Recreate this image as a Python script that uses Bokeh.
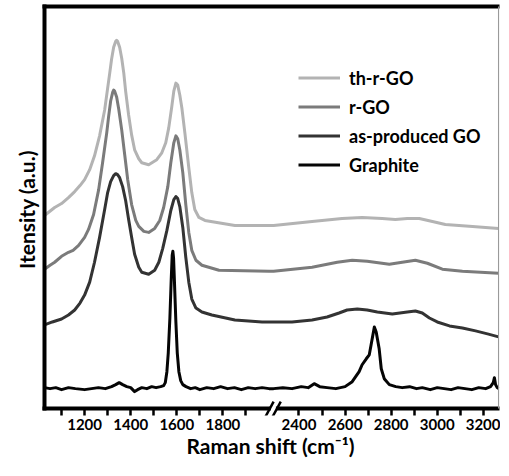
from bokeh.plotting import figure
from bokeh.models import FixedTicker, LinearAxis, Range1d, Legend, LegendItem
from bokeh.embed import file_html
from bokeh.resources import INLINE

# ---- data (Raman shift in cm^-1, intensity in a.u.) ----
graphite_x = [1026, 1050, 1075, 1100, 1130, 1160, 1200, 1230, 1260, 1290, 1317, 1335, 1350, 1365,
              1383, 1400, 1417, 1430, 1448, 1470, 1491, 1510, 1530, 1543, 1550, 1557, 1563, 1570,
              1576, 1580, 1583, 1586, 1590, 1596, 1602, 1609, 1617, 1626, 1640, 1660, 1680, 1700,
              1730, 1760, 1790, 1820, 1850, 1880, 1910, 1940, 1970, 2000,
              2290, 2330, 2370, 2410, 2440, 2466, 2490, 2522, 2560, 2600, 2631, 2661, 2674, 2692,
              2705, 2713, 2727, 2735, 2748, 2757, 2770, 2792, 2820, 2848, 2880, 2910, 2935, 2970,
              3000, 3030, 3060, 3090, 3120, 3150, 3180, 3210, 3231, 3243, 3248, 3253, 3260, 3266]
graphite_y = [5, 4, 5, 3, 5, 4, 3, 4, 5, 4, 6, 8, 10, 8,
              6, 5, 1, 3, 5, 4, 6, 5, 6, 7, 10, 21, 40, 75,
              115, 138, 142, 135, 110, 71, 40, 21, 12, 8, 6, 4, 5, 3,
              5, 4, 6, 4, 5, 3, 5, 4, 5, 4,
              4, 5, 4, 6, 5, 9, 6, 5, 4, 6, 11, 21, 28, 34,
              38, 48, 66, 61, 44, 24, 14, 8, 6, 5, 6, 4, 5, 3,
              5, 4, 3, 5, 4, 3, 5, 4, 6, 10, 15, 8, 5, 4]

go_x = [1026, 1060, 1100, 1130, 1157, 1180, 1200, 1222, 1243, 1265, 1287, 1300, 1313, 1326, 1335,
        1343, 1352, 1365, 1378, 1391, 1404, 1417, 1435, 1448, 1478, 1504, 1522, 1539, 1557, 1574,
        1587, 1596, 1604, 1613, 1626, 1639, 1652, 1665, 1683, 1709, 1752, 1852, 1970, 2000,
        2290, 2370, 2457, 2522, 2574, 2609, 2653, 2696, 2740, 2805, 2870, 2905, 2935, 2966, 3000,
        3053, 3109, 3166, 3218, 3266]
go_y = [68, 71, 74, 78, 83, 90, 98, 111, 131, 156, 184, 201, 212, 218, 220,
        219, 216, 207, 193, 174, 156, 139, 126, 121, 119, 123, 131, 145, 163, 183,
        194, 197, 195, 187, 166, 136, 111, 94, 85, 81, 78, 73, 71, 71,
        71, 71, 73, 76, 80, 83, 84, 83, 81, 79, 81, 82, 80, 75, 71,
        67, 65, 62, 59, 56]

rgo_x = [1026, 1050, 1070, 1100, 1130, 1150, 1174, 1200, 1217, 1239, 1261, 1278, 1296, 1304, 1313,
         1322, 1326, 1330, 1339, 1348, 1361, 1374, 1387, 1404, 1422, 1435, 1457, 1478, 1504, 1526,
         1543, 1561, 1574, 1587, 1596, 1604, 1613, 1626, 1639, 1652, 1665, 1683, 1709, 1783, 2000,
         2290, 2457, 2566, 2631, 2696, 2792, 2848, 2905, 2957, 3022, 3109, 3266]
rgo_y = [124, 128, 131, 137, 141, 143, 148, 156, 164, 179, 204, 231, 261, 277, 293,
         302, 304, 303, 297, 285, 264, 239, 214, 189, 173, 167, 162, 161, 165, 173,
         186, 207, 231, 251, 258, 255, 244, 221, 189, 161, 143, 133, 128, 123, 122,
         122, 126, 131, 133, 132, 129, 131, 133, 130, 124, 122, 120]

thrgo_x = [1026, 1070, 1100, 1130, 1157, 1180, 1200, 1222, 1243, 1265, 1287, 1300, 1309, 1317, 1326,
           1335, 1339, 1343, 1352, 1361, 1370, 1378, 1391, 1404, 1417, 1435, 1448, 1478, 1513, 1535,
           1552, 1565, 1578, 1587, 1596, 1604, 1613, 1622, 1635, 1652, 1665, 1678, 1696, 1722, 1852,
           2000,
           2290, 2457, 2587, 2674, 2761, 2818, 2870, 2922, 2979, 3035, 3153, 3266]
thrgo_y = [178, 186, 190, 196, 202, 208, 214, 224, 238, 258, 284, 306, 321, 335, 347,
           353, 354, 353, 347, 336, 321, 303, 279, 259, 244, 235, 231, 229, 234, 241,
           251, 266, 287, 303, 311, 309, 299, 286, 261, 226, 201, 184, 176, 173, 168,
           168,
           168, 172, 175, 176, 175, 174, 175, 175, 172, 169, 167, 165]

series_names = ["th-r-GO", "r-GO", "as-produced GO", "Graphite"]
major_tick_labels = [1200, 1400, 1600, 1800, 2400, 2600, 2800, 3000, 3200]
minor_tick_values = [1100, 1300, 1500, 1700, 1900, 2500, 2700, 2900, 3100]

# broken axis: the range 2000-2290 cm^-1 is cut out of the x axis
CUT_SHIFT = 270
X_LO, X_HI = 1026, 2996          # drawn axis box, display units
Y_LO, Y_HI = -16, 388            # drawn axis box, intensity units
BREAK_AT = 2018                  # display position of the axis break


def disp(xs):
    return [v if v < 2100 else v - CUT_SHIFT for v in xs]


FONT = "Lato"

p = figure(width=500, height=460, output_backend="svg", toolbar_location=None,
           x_range=Range1d(X_LO - 13, X_HI + 4), y_range=Range1d(Y_LO - 7, Y_HI + 3),
           min_border_left=41, min_border_right=1, min_border_top=3, min_border_bottom=0,
           x_axis_location=None, y_axis_location=None)
p.background_fill_color = "white"
p.border_fill_color = "white"
p.outline_line_color = None
p.xgrid.visible = False
p.ygrid.visible = False

colors = ["#b3b3b3", "#7b7b7b", "#333333", "#050505"]
data = [(thrgo_x, thrgo_y), (rgo_x, rgo_y), (go_x, go_y), (graphite_x, graphite_y)]
renderers = []
for (xs, ys), c in zip(data, colors):
    r = p.line(disp(xs), ys, line_color=c, line_width=3, line_join="round")
    renderers.append(r)

# box lines (frame of the graph)
p.segment(x0=[X_LO, X_LO, X_LO], y0=[Y_LO, Y_LO, Y_HI], x1=[X_HI, X_LO, X_HI], y1=[Y_LO, Y_HI, Y_HI],
          line_color="black", line_width=4, line_cap="square")
p.segment(x0=[X_HI], y0=[Y_LO], x1=[X_HI], y1=[Y_HI], line_color="#9a9a9a", line_width=1.2)

# axis break marks
p.segment(x0=[BREAK_AT - 10], y0=[Y_LO], x1=[BREAK_AT + 12], y1=[Y_LO], line_color="white", line_width=6)
p.segment(x0=[BREAK_AT - 33, BREAK_AT - 2], y0=[Y_LO - 8, Y_LO - 8],
          x1=[BREAK_AT + 2, BREAK_AT + 33], y1=[Y_LO + 7, Y_LO + 7],
          line_color="black", line_width=2.5)

# bottom axis: only ticks and labels (the line is drawn above)
xaxis = LinearAxis()
major_pos = disp(major_tick_labels)
xaxis.ticker = FixedTicker(ticks=major_pos, minor_ticks=disp(minor_tick_values))
xaxis.major_label_overrides = {pos: str(lab) for pos, lab in zip(major_pos, major_tick_labels)}
xaxis.axis_line_color = None
xaxis.major_tick_line_width = 2.5
xaxis.minor_tick_line_width = 2.5
xaxis.major_tick_out = 0
xaxis.major_tick_in = 7
xaxis.minor_tick_out = 0
xaxis.minor_tick_in = 6
xaxis.major_label_standoff = 3
xaxis.major_label_text_font = FONT
xaxis.major_label_text_font_style = "bold"
xaxis.major_label_text_font_size = "15px"
xaxis.major_label_text_color = "black"
xaxis.axis_label = "Raman shift (cm\u207b\u00b9)"
xaxis.axis_label_text_font = FONT
xaxis.axis_label_text_font_style = "bold"
xaxis.axis_label_text_font_size = "21px"
xaxis.axis_label_text_color = "black"
xaxis.axis_label_standoff = 0
p.add_layout(xaxis, "below")

# left axis: only the title
yaxis = LinearAxis()
yaxis.ticker = FixedTicker(ticks=[])
yaxis.axis_line_color = None
yaxis.major_tick_out = 0
yaxis.major_tick_in = 0
yaxis.minor_tick_out = 0
yaxis.minor_tick_in = 0
yaxis.major_label_text_font_size = "0px"
yaxis.major_label_standoff = 0
yaxis.axis_label = "Itensity (a.u.)"
yaxis.axis_label_text_font = FONT
yaxis.axis_label_text_font_style = "bold"
yaxis.axis_label_text_font_size = "21px"
yaxis.axis_label_text_color = "black"
yaxis.axis_label_standoff = 3
p.add_layout(yaxis, "left")

legend = Legend(items=[LegendItem(label=n, renderers=[r]) for n, r in zip(series_names, renderers)],
                location=(257, 236), orientation="vertical")
legend.glyph_width = 42
legend.glyph_height = 29
legend.label_height = 29
legend.spacing = 0
legend.padding = 0
legend.margin = 0
legend.label_standoff = 9
legend.border_line_color = None
legend.background_fill_alpha = 0
legend.label_text_font = FONT
legend.label_text_font_style = "bold"
legend.label_text_font_size = "18px"
legend.label_text_color = "black"
p.add_layout(legend, "center")

open("out.html", "w").write(file_html(p, INLINE))
